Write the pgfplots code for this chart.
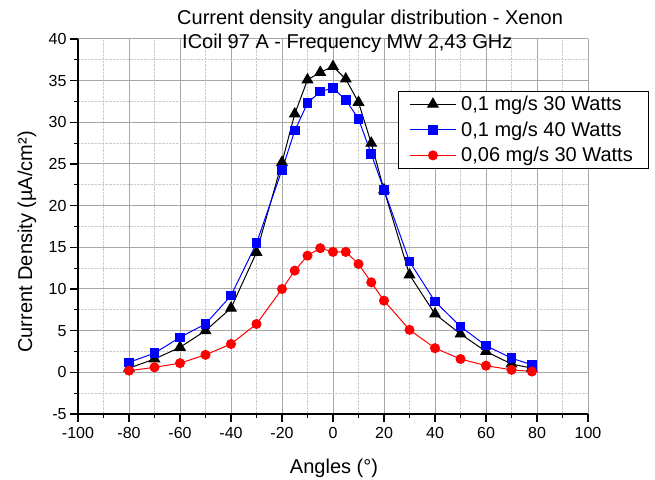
\documentclass[border=0pt]{standalone}
\usepackage{fontspec}
\setmainfont{Liberation Sans}
\usepackage{pgfplots}
\pgfplotsset{compat=1.18}

\newcommand{\bigfont}{\fontsize{20bp}{24bp}\selectfont}

\begin{document}
\begin{tikzpicture}
\path[use as bounding box] (0,0) rectangle (655bp,480bp);
\begin{axis}[
  at={(78bp,66bp)}, anchor=south west,
  scale only axis, width=510bp, height=375bp,
  xmin=-100, xmax=100, ymin=-5, ymax=40,
  xtick={-100,-80,...,100}, ytick={-5,0,...,40},
  minor x tick num=1, minor y tick num=1,
  axis x line*=bottom, axis y line*=left,
  axis line style={line width=1.3bp},
  tick align=outside,
  major tick length=8bp, minor tick length=4bp,
  every tick/.style={black, line width=1.2bp},
  grid=both,
  major grid style={black!35, line width=1bp},
  minor grid style={black!20, densely dotted, line width=0.7bp},
  /pgf/number format/assume math mode=true,
  ticklabel style={font=\fontsize{16bp}{19bp}\selectfont},
  xticklabel style={yshift=-2bp},
  legend style={at={(0.6275,0.8613)}, anchor=north west, draw=black,
    line width=0.8bp, fill=white, inner xsep=11bp, inner ysep=0bp,
    font=\bigfont, nodes={inner sep=4.8bp}, cells={anchor=west}},
  legend image code/.code={\draw[mark repeat=2,mark phase=2,#1]
    plot coordinates {(0bp,0bp)(23bp,0bp)(46bp,0bp)};},
]
% 0,1 mg/s 30 W
\addplot[black, line width=1bp, mark=triangle*, mark size=6bp,
  mark options={solid, fill=black}] coordinates {
  (-80,0.5) (-70,1.6) (-60,3.0) (-50,5.0) (-40,7.7) (-30,14.4)
  (-20,25.2) (-15,31.0) (-10,35.1) (-5,36.0) (0,36.7) (5,35.2)
  (10,32.4) (15,27.5) (20,21.9) (30,11.7) (40,7.0) (50,4.6)
  (60,2.5) (70,1.0) (78,0.5)
};
\addlegendentry{0,1 mg/s 30 Watts}
% 0,1 mg/s 40 W
\addplot[blue, line width=1bp, mark=square*, mark size=4.3bp,
  mark options={solid, fill=blue}] coordinates {
  (-80,1.2) (-70,2.3) (-60,4.2) (-50,5.8) (-40,9.2) (-30,15.5)
  (-20,24.3) (-15,29.0) (-10,32.3) (-5,33.7) (0,34.1) (5,32.7)
  (10,30.4) (15,26.2) (20,21.9) (30,13.3) (40,8.5) (50,5.5)
  (60,3.2) (70,1.7) (78,0.9)
};
\addlegendentry{0,1 mg/s 40 Watts}
% 0,06 mg/s 30 W
\addplot[red, line width=1bp, mark=*, mark size=4.5bp,
  mark options={solid, fill=red}] coordinates {
  (-80,0.2) (-70,0.6) (-60,1.1) (-50,2.1) (-40,3.4) (-30,5.8)
  (-20,10.0) (-15,12.2) (-10,14.0) (-5,14.9) (0,14.45) (5,14.45)
  (10,13.0) (15,10.8) (20,8.6) (30,5.1) (40,2.9) (50,1.6)
  (60,0.8) (70,0.3) (78,0.1)
};
\addlegendentry{0,06 mg/s 30 Watts}
\end{axis}
% titles and axis labels
\node[anchor=base west, inner sep=0, font=\bigfont] at (177bp,455.5bp)
  {Current density angular distribution - Xenon};
\node[anchor=base west, inner sep=0, font=\bigfont] at (182bp,431bp)
  {ICoil 97 A - Frequency MW 2,43 GHz};
\node[anchor=base, inner sep=0, font=\bigfont] at (334bp,7bp) {Angles (°)};
\node[rotate=90, anchor=base, inner sep=0, font=\bigfont] at (32bp,238bp)
  {Current Density (µA/cm²)};
\end{tikzpicture}
\end{document}
